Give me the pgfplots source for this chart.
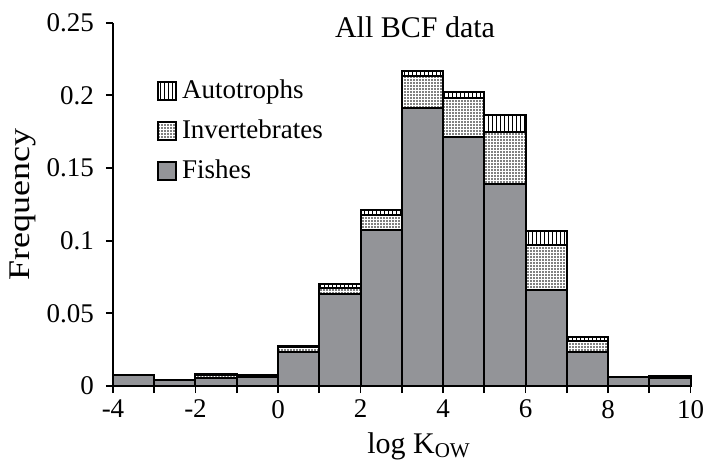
\documentclass[border=0pt]{standalone}
\usepackage{fontspec}
\setmainfont{Liberation Serif}
\usepackage{graphicx}
\usepackage{pgfplots}
\pgfplotsset{compat=1.18}
\usetikzlibrary{patterns.meta}
\definecolor{fishgray}{RGB}{147,148,152}

% Frequency of log Kow, stacked by taxonomic group (bin centres)
\pgfplotstableread{
x     fish    invert  auto
-3.5  0.0078  0.0     0.0
-2.5  0.0040  0.0     0.0
-1.5  0.0055  0.0020  0.0005
-0.5  0.0062  0.0     0.0014
0.5   0.0235  0.0030  0.0010
1.5   0.0635  0.0040  0.0025
2.5   0.1070  0.0103  0.0035
3.5   0.1915  0.0220  0.0035
4.5   0.1710  0.0272  0.0040
5.5   0.1387  0.0358  0.0116
6.5   0.0660  0.0310  0.0095
7.5   0.0232  0.0080  0.0027
8.5   0.0060  0.0     0.0
9.5   0.0055  0.0     0.0012
}\bcfdata

\begin{document}
\begin{tikzpicture}
\begin{axis}[
  at={(0,0)}, anchor=south west,
  scale only axis, width=288.75pt, height=181.7pt,
  xmin=-4, xmax=10, ymin=0, ymax=0.25,
  axis x line*=bottom, axis y line*=left,
  axis line style={line width=0.9pt, black},
  tick align=outside,
  major tick length=3.5pt, minor tick length=3.5pt,
  tick style={line width=0.9pt, black},
  xtick={-4,-2,...,10}, minor xtick={-3,-1,...,9},
  ytick={0,0.05,0.1,0.15,0.2,0.25},
  scaled y ticks=false,
  yticklabel style={/pgf/number format/fixed, xshift=-2.5pt},
  /pgf/number format/assume math mode=true,
  ticklabel style={font=\fontsize{13.5}{16}\selectfont},
  ybar stacked, bar width=1,
  clip=false,
  xlabel={log K\textsubscript{OW}},
  xlabel style={at={(axis description cs:0.53,0)}, anchor=base, yshift=-33.5pt,
    font=\fontsize{15}{18}\selectfont},
  ylabel={\scalebox{1.2}[1]{Frequency}},
  ylabel style={at={(axis description cs:-0.156,0.5)}, anchor=center,
    font=\fontsize{15}{18}\selectfont},
  reverse legend,
  legend image code/.code={\draw[#1] (0pt,-3.5pt) rectangle (9pt,5.5pt);},
  legend style={at={(axis description cs:0.0762,0.841)}, anchor=north west,
    draw=none, fill=none, inner sep=0pt, outer sep=0pt,
    font=\fontsize{13.5}{16}\selectfont, row sep=7.8pt,
    nodes={inner sep=0pt, text height=9.2pt, text depth=3pt},
    /tikz/every odd column/.append style={column sep=2.5pt}},
  legend cell align=left,
]
\addplot[draw=black, line width=1pt, fill=fishgray]
  table[x=x, y=fish] {\bcfdata};
\addlegendentry{Fishes}
\addplot[draw=black, line width=1pt, fill=white,
  postaction={pattern={Dots[distance=1.5pt, radius=0.45pt]}}]
  table[x=x, y=invert] {\bcfdata};
\addlegendentry{Invertebrates}
\addplot[draw=black, line width=1pt, fill=white,
  postaction={pattern={Lines[angle=90, distance=2pt, line width=0.5pt]}}]
  table[x=x, y=auto] {\bcfdata};
\addlegendentry{Autotrophs}
\node[anchor=base, font=\fontsize{15}{18}\selectfont]
  at (axis description cs:0.523,0.96) {All BCF data};
\end{axis}
\pgfresetboundingbox
\path[use as bounding box] (-56.5pt,-37.5pt) rectangle (296.5pt,193pt);
\end{tikzpicture}
\end{document}
